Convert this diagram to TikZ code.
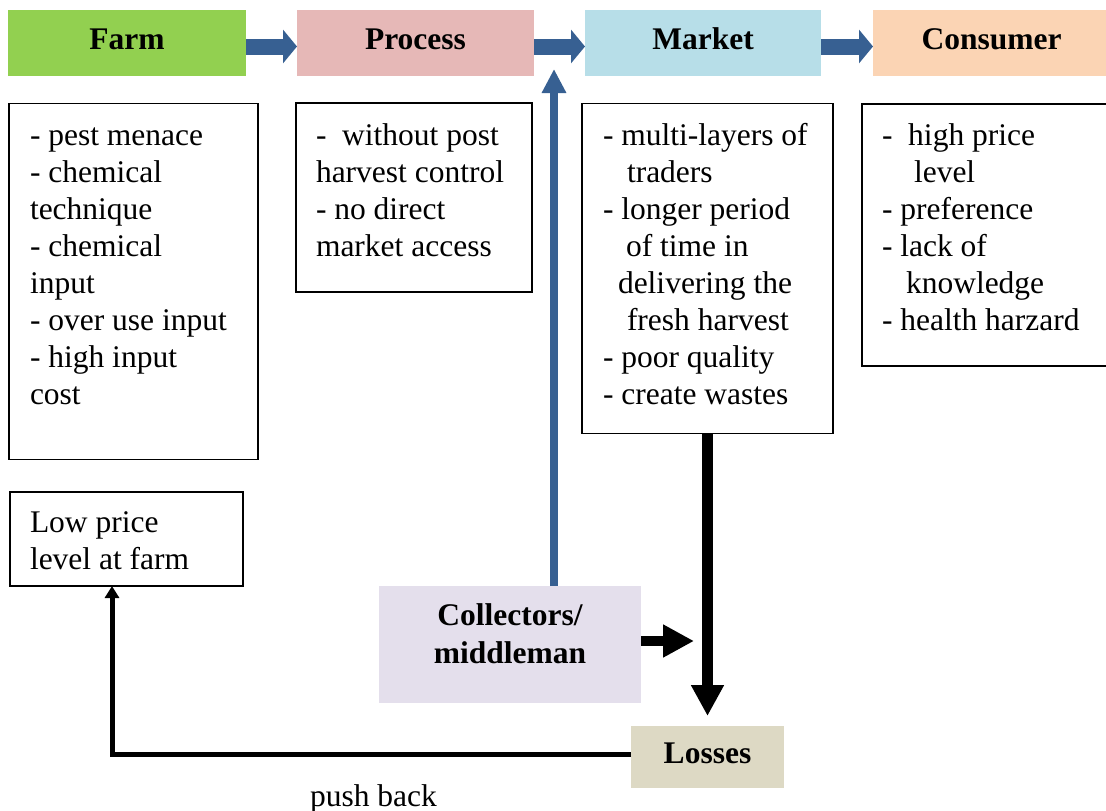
\documentclass[tikz,border=0pt]{standalone}
\usepackage{fontspec}
\setmainfont{Liberation Serif}
\usetikzlibrary{arrows.meta}
\definecolor{farmgreen}{HTML}{92D050}
\definecolor{procpink}{HTML}{E6B8B7}
\definecolor{mktblue}{HTML}{B7DEE8}
\definecolor{conspeach}{HTML}{FBD4B4}
\definecolor{colllav}{HTML}{E4DFEC}
\definecolor{losstan}{HTML}{DDD9C4}
\definecolor{arrblue}{HTML}{376092}
\begin{document}
\begin{tikzpicture}[x=1pt,y=-1pt,
  every node/.style={inner sep=0pt,outer sep=0pt},
  hdr/.style={rectangle,font=\fontsize{31.5}{37}\bfseries\selectfont,text height=21pt,text depth=8pt},
  boxline/.style={draw,line width=1.5pt,rectangle},
  txt/.style={anchor=base west,font=\fontsize{31.5}{37}\selectfont},
  btxt/.style={anchor=base,font=\fontsize{31.5}{37}\bfseries\selectfont},
  barrow/.style={draw=arrblue,line width=16pt,-{Triangle[width=33pt,length=14pt]},arrblue},
  barrowthin/.style={draw=arrblue,line width=8pt,-{Triangle[width=23pt,length=24pt]},arrblue},
  karrow/.style={draw=black,line width=11pt,-{Triangle[width=31pt,length=31pt]}},
  karrowthin/.style={draw=black,line width=5pt,-{Triangle[width=14pt,length=12pt]}}]
\useasboundingbox (0,0) rectangle (1106,811);

% header boxes
\node[hdr,fill=farmgreen,minimum width=238pt,minimum height=66pt] (farm) at (127,43) {Farm};
\node[hdr,fill=procpink,minimum width=237pt,minimum height=66pt] (process) at (415.5,43) {Process};
\node[hdr,fill=mktblue,minimum width=236pt,minimum height=66pt] (market) at (703,43) {Market};
\node[hdr,fill=conspeach,minimum width=237pt,minimum height=66pt] (consumer) at (991.5,43) {Consumer};

% text boxes
\node[boxline,minimum width=249pt,minimum height=356pt] (farmbox) at (133.5,281.5) {};
\node[boxline,minimum width=236pt,minimum height=189pt] (procbox) at (414,197.5) {};
\node[boxline,minimum width=251pt,minimum height=330pt] (mktbox) at (707.5,268.5) {};
\node[boxline,minimum width=248pt,minimum height=262pt] (consbox) at (986,235) {};
\node[boxline,minimum width=233pt,minimum height=94pt] (lowbox) at (126.5,539) {};

% farm text
\node[txt] (f1) at (30,145) {- pest menace};
\node[txt] (f2) at (30,182) {- chemical};
\node[txt] (f3) at (30,219) {technique};
\node[txt] (f4) at (30,256) {- chemical};
\node[txt] (f5) at (30,293) {input};
\node[txt] (f6) at (30,330) {- over use input};
\node[txt] (f7) at (30,367) {- high input};
\node[txt] (f8) at (30,404) {cost};

% process text
\node[txt] (p1) at (316,145) {-\ \ without post};
\node[txt] (p2) at (316,182) {harvest control};
\node[txt] (p3) at (316,219) {- no direct};
\node[txt] (p4) at (316,256) {market access};

% market text
\node[txt] (m1) at (603,145) {- multi-layers of};
\node[txt] (m2) at (627,182) {traders};
\node[txt] (m3) at (603,219) {- longer period};
\node[txt] (m4) at (626,256) {of time in};
\node[txt] (m5) at (618,293) {delivering the};
\node[txt] (m6) at (627,330) {fresh harvest};
\node[txt] (m7) at (603,367) {- poor quality};
\node[txt] (m8) at (603,404) {- create wastes};

% consumer text
\node[txt] (c1) at (882,145) {-\ \ high price};
\node[txt] (c2) at (914,182) {level};
\node[txt] (c3) at (882,219) {- preference};
\node[txt] (c4) at (882,256) {- lack of};
\node[txt] (c5) at (906,293) {knowledge};
\node[txt] (c6) at (882,330) {- health harzard};

% low price text
\node[txt] (l1) at (30,532) {Low price};
\node[txt] (l2) at (30,569) {level at farm};

% collectors and losses
\node[rectangle,fill=colllav,minimum width=262pt,minimum height=117pt] (coll) at (510,644.5) {};
\node[btxt] (coll1) at (510,625) {Collectors/};
\node[btxt] (coll2) at (510,663) {middleman};
\node[hdr,fill=losstan,minimum width=153pt,minimum height=62pt] (loss) at (707.5,757) {Losses};

\node[txt] (push) at (310,806) {push back};

% coordinates
\coordinate (vtip) at (554,69);
\coordinate (ctip) at (694,641);

% blue arrows
\draw[barrow] ([yshift=-3.5pt]farm.east) -- ([yshift=-3.5pt]process.west);
\draw[barrow] ([yshift=-3.5pt]process.east) -- ([yshift=-3.5pt]market.west);
\draw[barrow] ([yshift=-3.5pt]market.east) -- ([yshift=-3.5pt]consumer.west);
\draw[barrowthin] (coll.north -| vtip) -- (vtip);

% black arrows
\draw[karrow,shorten >=10pt] (mktbox.south) -- (loss.north);
\draw[draw=black,line width=10pt,-{Triangle[width=31pt,length=31pt]}] (coll.east |- ctip) -- (ctip);
\draw[karrowthin] ([yshift=2.5pt]loss.west) -| ([xshift=-14.5pt]lowbox.south);
\end{tikzpicture}
\end{document}
